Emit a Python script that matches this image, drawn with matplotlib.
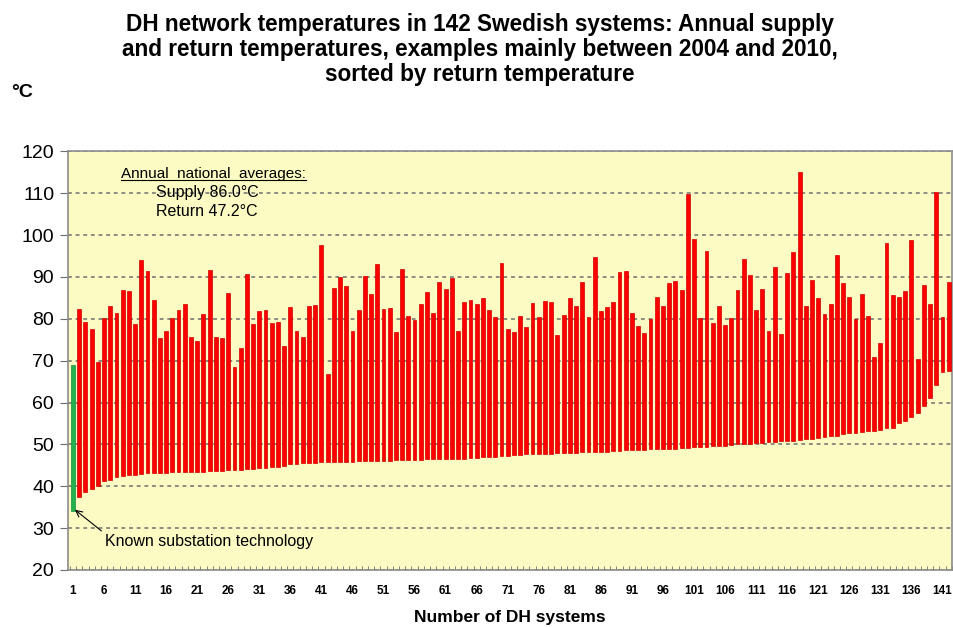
#!/usr/bin/python3
# plot.py - DH network supply/return temperatures, 142 Swedish systems

import numpy as np
import matplotlib as mpl
mpl.use('Agg')
import matplotlib.pyplot as plt
from matplotlib.lines import Line2D

plt.rcParams['font.family'] = ['Liberation Sans', 'DejaVu Sans']

# annual supply temperature per system (top of bar)
supply = [69.0, 82.3, 79.3, 77.5, 69.6, 80.2, 83.1, 81.4, 86.9, 86.6,
          78.8, 94.0, 91.5, 84.5, 75.3, 77.2, 80.3, 82.0, 83.5, 75.7,
          74.7, 81.2, 91.7, 75.6, 75.3, 86.1, 68.5, 73.1, 90.8, 78.7,
          81.8, 82.1, 79.0, 79.2, 73.5, 82.7, 77.1, 75.6, 83.0, 83.4,
          97.7, 66.7, 87.3, 89.9, 87.8, 77.1, 82.2, 90.2, 86.0, 93.1,
          82.3, 82.6, 76.9, 91.8, 80.6, 79.7, 83.5, 86.4, 81.5, 88.9,
          87.2, 89.8, 77.2, 83.9, 84.4, 83.6, 85.0, 82.0, 80.5, 93.3,
          77.5, 76.8, 80.7, 78.1, 83.7, 80.5, 84.2, 83.9, 76.2, 80.9,
          84.9, 83.1, 88.8, 80.5, 94.7, 81.8, 82.7, 83.9, 91.2, 91.5,
          81.4, 78.3, 76.5, 79.9, 85.2, 83.0, 88.5, 89.1, 86.8, 109.8,
          99.0, 80.2, 96.1, 79.0, 83.0, 78.4, 80.2, 86.9, 94.4, 90.4,
          82.0, 87.2, 77.1, 92.4, 76.4, 91.0, 96.0, 115.1, 83.1, 89.3,
          85.0, 81.2, 83.6, 95.2, 88.5, 85.1, 80.0, 86.0, 80.6, 70.8,
          74.2, 98.2, 85.7, 85.1, 86.7, 98.8, 70.5, 88.0, 83.6, 110.3,
          80.5, 88.9]

# annual return temperature per system (bottom of bar), sorted
ret = [34.2, 37.4, 38.6, 39.3, 40.1, 41.2, 41.6, 42.1, 42.5, 42.7,
       42.8, 43.0, 43.1, 43.1, 43.2, 43.2, 43.3, 43.3, 43.4, 43.4,
       43.5, 43.5, 43.6, 43.6, 43.7, 43.8, 43.9, 44.0, 44.1, 44.2,
       44.3, 44.4, 44.5, 44.7, 44.9, 45.2, 45.4, 45.5, 45.6, 45.6,
       45.7, 45.7, 45.8, 45.8, 45.9, 45.9, 46.0, 46.0, 46.0, 46.1,
       46.1, 46.1, 46.2, 46.2, 46.2, 46.3, 46.3, 46.4, 46.4, 46.5,
       46.5, 46.5, 46.6, 46.6, 46.7, 46.8, 46.9, 47.0, 47.1, 47.2,
       47.3, 47.4, 47.5, 47.6, 47.6, 47.7, 47.7, 47.8, 47.9, 47.9,
       48.0, 48.0, 48.1, 48.2, 48.2, 48.3, 48.3, 48.4, 48.5, 48.6,
       48.6, 48.7, 48.7, 48.8, 48.8, 48.9, 49.0, 49.0, 49.1, 49.2,
       49.3, 49.3, 49.4, 49.5, 49.6, 49.7, 49.8, 50.0, 50.1, 50.2,
       50.3, 50.4, 50.5, 50.6, 50.7, 50.8, 50.9, 51.0, 51.2, 51.4,
       51.6, 51.8, 51.9, 52.1, 52.4, 52.7, 52.8, 52.9, 53.1, 53.3,
       53.5, 53.8, 54.0, 55.1, 55.6, 56.5, 57.5, 59.1, 61.1, 64.1,
       67.2, 67.5]

systems = list(range(1, len(supply) + 1))
xtick_labels = [str(n) for n in range(1, 142, 5)]
yticks = list(range(20, 121, 10))

supply_avg = 86.0
return_avg = 47.2

bg_yellow = "#fbfbc3"
bar_red = "#ff0000"
bar_edge = "#d00000"
bar_green = "#22b14c"
grid_gray = "#6e6e6e"

fig = plt.figure(figsize=(9.54, 6.28), dpi=100)
ax = fig.add_axes([0.0713, 0.0924, 0.9267, 0.6666])
ax.set_facecolor(bg_yellow)

x = np.array(systems)
heights = np.array(supply) - np.array(ret)
colors = [bar_green] + [bar_red] * (len(supply) - 1)
edges = ["#1a9040"] + [bar_edge] * (len(supply) - 1)
ax.bar(x, heights, bottom=ret, width=0.62, color=colors,
       edgecolor=edges, linewidth=0.5, zorder=3)

ax.set_xlim(0.2, len(supply) + 0.55)
ax.set_ylim(20, 120)

# dashed gridlines
ax.set_yticks(yticks)
ax.yaxis.grid(True, linestyle=(0, (2.5, 2.5)), color=grid_gray, linewidth=1.1, zorder=1)
ax.tick_params(axis='y', labelsize=14, length=6, color=grid_gray, pad=4)

# category labels every 5th system, small ticks between categories
ax.set_xticks(list(range(1, 142, 5)))
ax.set_xticklabels(xtick_labels, fontsize=8.5, fontweight='bold')
ax.set_xticks(np.arange(0.5, len(supply) + 1, 1), minor=True)
ax.tick_params(axis='x', which='major', length=0, pad=11)
ax.tick_params(axis='x', which='minor', length=3, direction='in', color=grid_gray)

for side in ['top', 'right', 'left', 'bottom']:
    ax.spines[side].set_color('#8c8c8c')
    ax.spines[side].set_linewidth(1.2)

ax.set_xlabel('Number of DH systems', fontsize=12.5, fontweight='bold', labelpad=9)

fig.text(0.503, 0.98, 'DH network temperatures in 142 Swedish systems: Annual supply\n'
         'and return temperatures, examples mainly between 2004 and 2010,\n'
         'sorted by return temperature',
         ha='center', va='top', fontsize=16.3, fontweight='bold', linespacing=1.12)
fig.text(0.012, 0.852, '°C', fontsize=14, fontweight='bold', ha='left', va='center')

# national averages box text
head = ax.text(0.1645, 0.946, 'Annual  national  averages:', transform=ax.transAxes,
               fontsize=11, ha='center', va='center')
ax.text(0.1, 0.902, 'Supply %.1f°C' % supply_avg, transform=ax.transAxes,
        fontsize=11.5, ha='left', va='center')
ax.text(0.1, 0.857, 'Return %.1f°C' % return_avg, transform=ax.transAxes,
        fontsize=11.5, ha='left', va='center')

# underline the heading
fig.canvas.draw()
bb = head.get_window_extent()
fig.add_artist(Line2D([bb.x0 / fig.bbox.width, bb.x1 / fig.bbox.width],
                      [(bb.y0 + 1) / fig.bbox.height] * 2,
                      color='black', linewidth=0.8))

ax.annotate('Known substation technology', xy=(1.3, ret[0] + 0.2), xytext=(6.2, 26.8),
            fontsize=11.5, ha='left', va='center',
            arrowprops=dict(arrowstyle='->', color='black', lw=0.8,
                            relpos=(0, 1), shrinkA=1, shrinkB=0))

plt.savefig('out.png', dpi=100)
